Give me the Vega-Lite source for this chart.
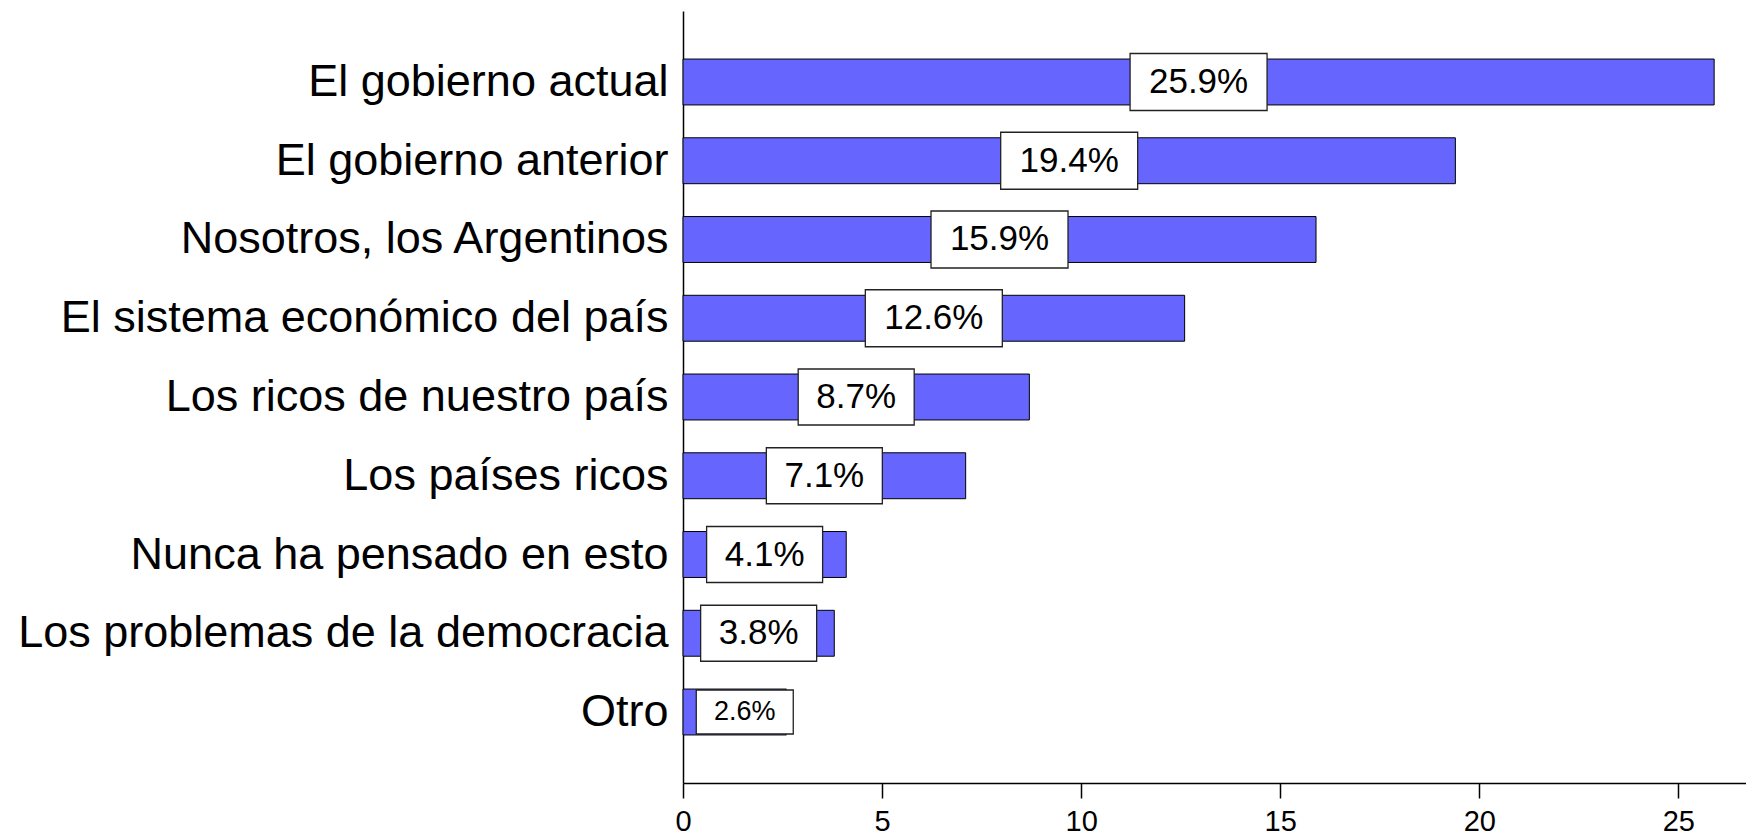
{
  "$schema": "https://vega.github.io/schema/vega-lite/v6.json",
  "width": 1063,
  "height": 772,
  "autosize": {"type": "none"},
  "padding": {"left": 683, "top": 11, "right": 0, "bottom": 52},
  "background": "white",
  "config": {
    "view": {"stroke": null},
    "font": "Liberation Sans",
    "axis": {"grid": false, "domainColor": "black", "domainWidth": 1.5, "tickColor": "black", "labelColor": "black", "labelFont": "Liberation Sans"}
  },
  "data": {
    "values": [
      {"category": "El gobierno actual", "value": 25.9, "label": "25.9%"},
      {"category": "El gobierno anterior", "value": 19.4, "label": "19.4%"},
      {"category": "Nosotros, los Argentinos", "value": 15.9, "label": "15.9%"},
      {"category": "El sistema económico del país", "value": 12.6, "label": "12.6%"},
      {"category": "Los ricos de nuestro país", "value": 8.7, "label": "8.7%"},
      {"category": "Los países ricos", "value": 7.1, "label": "7.1%"},
      {"category": "Nunca ha pensado en esto", "value": 4.1, "label": "4.1%"},
      {"category": "Los problemas de la democracia", "value": 3.8, "label": "3.8%"},
      {"category": "Otro", "value": 2.6, "label": "2.6%"}
    ]
  },
  "encoding": {
    "y": {
      "field": "category",
      "type": "nominal",
      "sort": null,
      "scale": {"paddingInner": 0.417, "paddingOuter": 0.61},
      "axis": {"title": null, "ticks": false, "labelFontSize": 45, "labelPadding": 15, "labelLimit": 1000, "domainWidth": 1.5}
    }
  },
  "resolve": {"scale": {"x": "independent"}, "axis": {"x": "independent"}},
  "layer": [
    {
      "mark": {"type": "bar", "color": "#6666FF", "stroke": "black", "strokeWidth": 1},
      "encoding": {
        "x": {
          "field": "value",
          "type": "quantitative",
          "scale": {"domain": [0, 26.7], "nice": false, "zero": true},
          "axis": {"title": null, "values": [0, 5, 10, 15, 20, 25], "tickSize": 15, "tickWidth": 1.5, "labelFontSize": 29, "labelPadding": 9, "labelFlush": false}
        }
      }
    },
    {
      "encoding": {
        "x": {"field": "value", "type": "quantitative", "scale": {"domain": [0, 53.4], "nice": false}, "axis": null}
      },
      "layer": [
        {
          "transform": [{"filter": "datum.value >= 3"}],
          "mark": {"type": "point", "filled": true, "fill": "white", "stroke": "#222222", "strokeWidth": 1.3, "opacity": 1},
          "encoding": {
            "shape": {
              "condition": {"test": "datum.value >= 10", "value": "M-1,-0.416L1,-0.416L1,0.416L-1,0.416Z"},
              "value": "M-1,-0.483L1,-0.483L1,0.483L-1,0.483Z"
            },
            "size": {
              "condition": {"test": "datum.value >= 10", "value": 18769},
              "value": 13456
            }
          }
        },
        {
          "transform": [{"filter": "datum.value < 3"}],
          "mark": {"type": "point", "filled": true, "fill": "white", "stroke": "#222222", "strokeWidth": 1.3, "opacity": 1, "xOffset": 10, "shape": "M-1,-0.454L1,-0.454L1,0.454L-1,0.454Z", "size": 9409}
        },
        {
          "transform": [{"filter": "datum.value >= 3"}],
          "mark": {"type": "text", "color": "black", "align": "center", "baseline": "middle", "font": "Liberation Sans", "fontSize": 35},
          "encoding": {
            "text": {"field": "label"}
          }
        },
        {
          "transform": [{"filter": "datum.value < 3"}],
          "mark": {"type": "text", "color": "black", "align": "center", "baseline": "middle", "font": "Liberation Sans", "fontSize": 27, "xOffset": 10},
          "encoding": {
            "text": {"field": "label"}
          }
        }
      ]
    }
  ]
}
